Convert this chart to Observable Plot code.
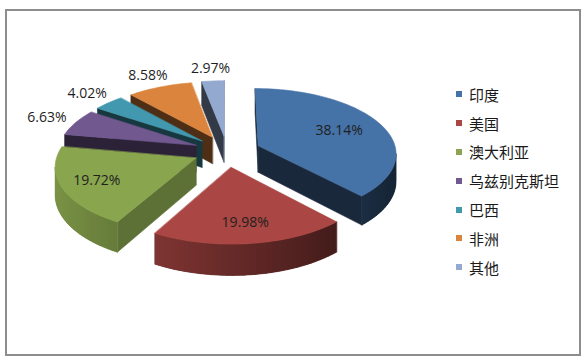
<!DOCTYPE html>
<html>
<head>
<meta charset="utf-8">
<script src="https://cdn.jsdelivr.net/npm/d3@7"></script>
<script src="https://cdn.jsdelivr.net/npm/@observablehq/plot@0.6"></script>
<style>
  html, body { margin: 0; padding: 0; background: #fff; }
  #wrap { position: relative; width: 586px; height: 359px; overflow: hidden; background: #fff; }
  #frame { position: absolute; left: 5px; top: 9px; width: 576px; height: 347px; box-sizing: border-box; border: 2px solid #8d8d8d; }
  #chart { position: absolute; left: 0; top: 0; }
  #legend { position: absolute; left: 456px; top: 80px; font-family: "Noto Sans CJK SC", sans-serif; font-size: 15px; color: #1a1a1a; }
  .row { height: 28.8px; display: flex; align-items: center; white-space: nowrap; }
  .sw { width: 6px; height: 6px; margin-right: 7px; flex: none; }
</style>
</head>
<body>
<div id="wrap">
  <div id="frame"></div>
  <div id="chart"></div>
  <div id="legend"></div>
</div>
<script>
// ---- data ----
const categories = ["印度", "美国", "澳大利亚", "乌兹别克斯坦", "巴西", "非洲", "其他"];
const shares = [38.14, 19.98, 19.72, 6.63, 4.02, 8.58, 2.97];
const seriesColors = ["#4572A7", "#AA4643", "#89A54E", "#71588F", "#4198AF", "#DB843D", "#93A9CF"];

// ---- 3D pie layout (perspective projection) ----
const CX = 226.5, CY = 150.7, R = 138, EXPLODE = 33.8;
const SIN_T = 0.467, COS_T = 0.884, DIST = 1100, DEPTH = 27;

function project(X, Z, bottom) {
  const s = DIST / (DIST + Z * COS_T);
  return [CX + X * s, CY - Z * SIN_T * s + (bottom ? DEPTH * s : 0)];
}
function shade(c, f) {
  const r = d3.rgb(c);
  return d3.rgb(r.r * f, r.g * f, r.b * f).formatHex();
}
function signedArea(p) {
  let a = 0;
  for (let i = 0; i < p.length; i++) {
    const [x1, y1] = p[i], [x2, y2] = p[(i + 1) % p.length];
    a += x1 * y2 - x2 * y1;
  }
  return a / 2;
}
const radialShade = nx => nx > 0 ? 0.4 + 0.32 * nx : 0.4 + 0.06 * nx;
const outerShade = nx => Math.max(0.33, Math.min(0.92, 0.6 - 0.3 * nx));

const arcs = d3.pie().sort(null).value(d => d)(shares);
const mid = a => (a.startAngle + a.endAngle) / 2;
const order = arcs.map((a, i) => i).sort((i, j) => Math.cos(mid(arcs[j])) - Math.cos(mid(arcs[i])));

const faces = [];
let fid = 0;
function addFace(pts, color, stroke) {
  pts.forEach(([x, y]) => faces.push({x, y, id: fid, color, stroke: stroke ? color : "none"}));
  fid++;
}

const labelRows = [];
for (const i of order) {
  const arc = arcs[i];
  const a0 = arc.startAngle, a1 = arc.endAngle, m = mid(arc);
  const ox = EXPLODE * Math.sin(m), oz = EXPLODE * Math.cos(m);
  const P = (r, t, b) => project(ox + r * Math.sin(t), oz + r * Math.cos(t), b);
  const base = seriesColors[i];
  const n = Math.max(2, Math.ceil((a1 - a0) / (Math.PI / 90)));
  const step = (a1 - a0) / n;

  // radial walls
  const radial = [
    {pts: [P(0, a0, 0), P(R, a0, 0), P(R, a0, 1), P(0, a0, 1)], f: radialShade(-Math.cos(a0))},
    {pts: [P(R, a1, 0), P(0, a1, 0), P(0, a1, 1), P(R, a1, 1)], f: radialShade(Math.cos(a1))}
  ];
  radial.filter(w => signedArea(w.pts) < 0).forEach(w => addFace(w.pts, shade(base, w.f), true));

  // outer curved wall: visible segments, underlay + overlapping gradient strips
  const vis = [];
  for (let k = 0; k < n; k++) {
    const t1 = a0 + step * k, t2 = t1 + step;
    const q = [P(R, t1, 0), P(R, t2, 0), P(R, t2, 1), P(R, t1, 1)];
    vis.push(signedArea(q) < 0);
  }
  let k = 0;
  while (k < n) {
    if (!vis[k]) { k++; continue; }
    let e = k;
    while (e < n && vis[e]) e++;
    const ts = d3.range(k, e + 1).map(j => a0 + step * j);
    const under = ts.map(t => P(R, t, 0)).concat(ts.slice().reverse().map(t => P(R, t, 1)));
    addFace(under, shade(base, outerShade(Math.sin((ts[0] + ts[ts.length - 1]) / 2))), true);
    for (let j = k; j < e; j++) {
      const t1 = a0 + step * j, t2 = Math.min(t1 + step * 1.35, a0 + step * e);
      addFace([P(R, t1, 0), P(R, t2, 0), P(R, t2, 1), P(R, t1, 1)], shade(base, outerShade(Math.sin(t1 + step / 2))), false);
    }
    k = e;
  }

  // top face
  const top = [P(0, a0, 0)];
  for (let j = 0; j <= n; j++) top.push(P(R, a0 + step * j, 0));
  addFace(top, base, true);

  const t = shares[i] < 10 ? 1.25 : (shares[i] > 30 ? 0.66 : 0.75);
  const [lx, ly] = P(R * t, m, 0);
  labelRows.push({x: lx, y: ly, label: shares[i].toFixed(2) + "%"});
}

const chart = Plot.plot({
  width: 586,
  height: 359,
  margin: 0,
  x: {domain: [0, 586], range: [0, 586], axis: null},
  y: {domain: [0, 359], range: [0, 359], axis: null},
  color: {type: "identity"},
  style: {background: "transparent"},
  marks: [
    Plot.line(faces, {x: "x", y: "y", z: "id", fill: "color", stroke: "stroke", strokeWidth: 0.6, curve: "linear-closed"}),
    Plot.text(labelRows, {x: "x", y: "y", text: "label", fontSize: 14, fontFamily: "'Open Sans', sans-serif", fill: "#1f1f1f"})
  ]
});
document.getElementById("chart").appendChild(chart);

const legend = d3.select("#legend");
categories.forEach((c, i) => {
  const row = legend.append("div").attr("class", "row");
  row.append("div").attr("class", "sw").style("background", seriesColors[i]);
  row.append("span").text(c);
});
</script>
</body>
</html>
